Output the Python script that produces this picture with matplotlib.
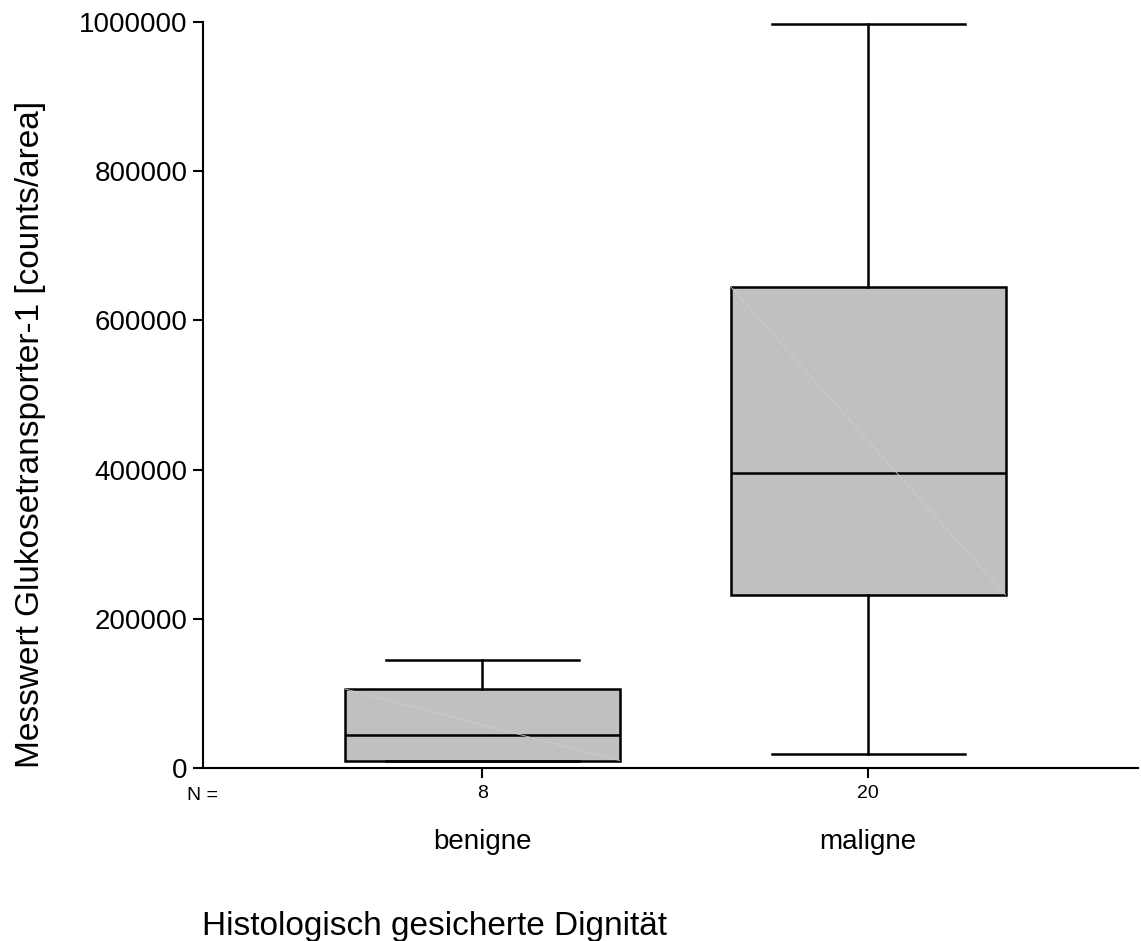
import matplotlib
matplotlib.use("Agg")
import matplotlib.pyplot as plt

plt.rcParams['font.family'] = ['Liberation Sans', 'DejaVu Sans']

# data (counts/area)
groups = ['benigne', 'maligne']
n_cases = [8, 20]
whisker_low = [10000, 19000]
q1 = [10000, 232000]
median = [44000, 396000]
q3 = [106000, 645000]
whisker_high = [145000, 997000]
y_ticks = [0, 200000, 400000, 600000, 800000, 1000000]

stats = []
for i, g in enumerate(groups):
    stats.append({'label': g, 'whislo': whisker_low[i], 'q1': q1[i], 'med': median[i],
                  'q3': q3[i], 'whishi': whisker_high[i], 'fliers': []})

fig = plt.figure(figsize=(11.41, 9.41), dpi=100)
ax = fig.add_axes([203 / 1141, 1 - 768 / 941, 935 / 1141, 746 / 941])

positions = [1, 2]
lw = 1.8
bp = ax.bxp(stats, positions=positions, widths=0.712, patch_artist=True,
            showfliers=False, capwidths=0.5,
            boxprops=dict(facecolor='#c0c0c0', edgecolor='black', linewidth=lw),
            medianprops=dict(color='black', linewidth=lw),
            whiskerprops=dict(color='black', linewidth=lw),
            capprops=dict(color='black', linewidth=lw))
for artist in bp['boxes'] + bp['medians'] + bp['whiskers'] + bp['caps']:
    artist.set_clip_on(False)

# faint diagonal artifact inside each box
for i, p in enumerate(positions):
    ax.plot([p - 0.356, p + 0.356], [q3[i], q1[i]], color='#cdcdcd', lw=0.6, zorder=2.5)

ax.set_xlim(0.277, 2.699)
ax.set_ylim(0, 1000000)
ax.set_yticks(y_ticks)
ax.set_yticklabels([str(v) for v in y_ticks], fontsize=20)
ax.set_xticks(positions)
ax.set_xticklabels([str(n) for n in n_cases], fontsize=14)
ax.tick_params(axis='both', direction='out', length=7, width=1.5, color='black')
ax.tick_params(axis='y', pad=4)
ax.tick_params(axis='x', pad=5)

for side in ['top', 'right']:
    ax.spines[side].set_visible(False)
for side in ['left', 'bottom']:
    ax.spines[side].set_linewidth(1.5)

fig.text(218 / 1141, 1 - 795 / 941, 'N =', fontsize=14, ha='right', va='center')
data_fig = ax.get_xaxis_transform().__class__(ax.transData, fig.transFigure)
for p, g in zip(positions, groups):
    ax.text(p, 1 - 842 / 941, g, transform=data_fig, fontsize=20, ha='center', va='center')

fig.text(202 / 1141, 1 - 935 / 941, 'Histologisch gesicherte Dignität', fontsize=24,
         ha='left', va='baseline')
fig.text(31 / 1141, 1 - 434 / 941, 'Messwert Glukosetransporter-1 [counts/area]',
         fontsize=24, rotation=90, ha='center', va='center')

fig.savefig('out.png', dpi=100)
